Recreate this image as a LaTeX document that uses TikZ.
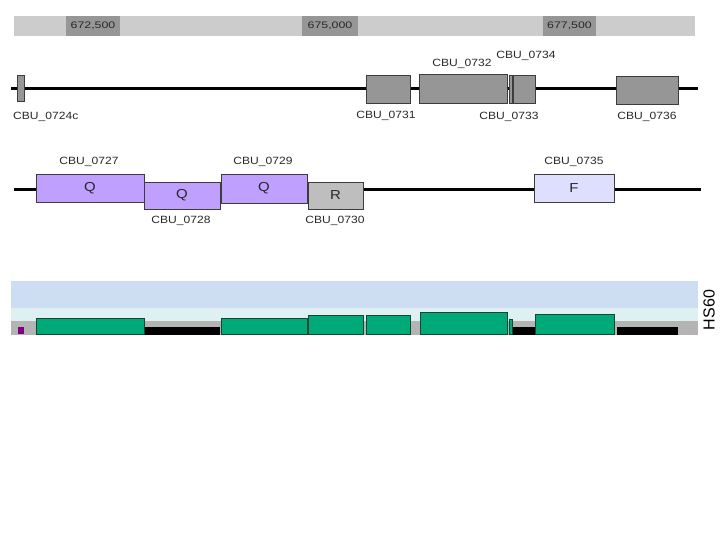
\documentclass[tikz,border=0pt]{standalone}
\usepackage{fontspec}
\setmainfont{Liberation Sans}
\newfontfamily\widefont{Liberation Sans}[FakeStretch=1.15]
\newfontfamily\rulerfont{Liberation Sans}[FakeStretch=1.3]
\usepackage{xcolor}
\usepackage{tikz}
\usetikzlibrary{positioning}

\definecolor{rulerbg}{RGB}{204,204,204}
\definecolor{rulertick}{RGB}{150,150,150}
\definecolor{genegray}{RGB}{150,150,150}
\definecolor{geneedge}{RGB}{60,60,60}
\definecolor{qpurple}{RGB}{191,160,255}
\definecolor{rgray}{RGB}{190,190,190}
\definecolor{flav}{RGB}{222,222,255}
\definecolor{hsblue}{RGB}{206,222,242}
\definecolor{hscyan}{RGB}{223,240,242}
\definecolor{hsgray}{RGB}{180,180,180}
\definecolor{hsgreen}{RGB}{0,170,120}
\definecolor{hsedge}{RGB}{20,70,50}
\definecolor{hspurple}{RGB}{128,0,128}
\definecolor{txt}{RGB}{40,40,40}

\begin{document}
\begin{tikzpicture}[x=1pt, y=-1pt,
  gene/.style={draw=geneedge, line width=0.8pt, fill=#1, inner sep=0pt, outer sep=0pt,
               font=\widefont\fontsize{13}{13}\selectfont, text=txt},
  lbl/.style={font=\widefont\fontsize{10.5}{10.5}\selectfont, text=txt, inner sep=0pt},
  tick/.style={fill=rulertick, inner sep=0pt, minimum height=20pt,
               font=\rulerfont\fontsize{9.5}{9.5}\selectfont, text=txt},
  backbone/.style={line width=2.2pt, black},
  green/.style={fill=hsgreen, draw=hsedge, line width=0.7pt}
]
\useasboundingbox (0,0) rectangle (720,540);

%% ---- Ruler ----
\fill[rulerbg] (14,16) rectangle (695,36);
\node[tick, minimum width=54pt] (r1) at (93,26)  {672,500};
\node[tick, minimum width=56pt] (r2) at (330,26) {675,000};
\node[tick, minimum width=53pt] (r3) at (569.5,26) {677,500};

%% ---- Track 1 ----
\coordinate (t1w) at (11,88.5);
\coordinate (t1e) at (698,88.5);
\draw[backbone] (t1w) -- (t1e);
\node[gene=genegray, minimum width=7pt,  minimum height=26pt] (g0724c) at (20.5,88)  {};
\node[gene=genegray, minimum width=44pt, minimum height=28pt] (g0731)  at (388,89)   {};
\node[gene=genegray, minimum width=88pt, minimum height=29pt] (g0732)  at (463,88.5) {};
\node[gene=genegray, minimum width=3pt,  minimum height=28pt] (g0733)  at (510.5,89) {};
\node[gene=genegray, minimum width=22pt, minimum height=28pt] (g0734)  at (524,89)   {};
\node[gene=genegray, minimum width=62pt, minimum height=28pt] (g0736)  at (647,90)   {};

\node[lbl, anchor=west] (l0724c) at (13,117) {CBU\_0724c};
\node[lbl] (l0731) at (386,116) {CBU\_0731};
\node[lbl] (l0732) at (462,64)  {CBU\_0732};
\node[lbl] (l0734) at (526,56)  {CBU\_0734};
\node[lbl] (l0733) at (509,117) {CBU\_0733};
\node[lbl] (l0736) at (647,117) {CBU\_0736};

%% ---- Track 2 ----
\coordinate (t2w) at (14,189.5);
\coordinate (t2e) at (701,189.5);
\draw[backbone] (t2w) -- (t2e);
\node[gene=qpurple, minimum width=108pt, minimum height=28pt] (g0727) at (90,188)    {Q};
\node[gene=qpurple, minimum width=76pt,  minimum height=27pt] (g0728) at (182,195.5) {Q};
\node[gene=qpurple, minimum width=86pt,  minimum height=29pt] (g0729) at (264,188.5) {Q};
\node[gene=rgray,   minimum width=55pt,  minimum height=27pt] (g0730) at (335.5,195.5) {R};
\node[gene=flav,    minimum width=80pt,  minimum height=28pt] (g0735) at (574,188)   {F};

\node[lbl] (l0727) at (89,162)  {CBU\_0727};
\node[lbl] (l0728) at (181,221) {CBU\_0728};
\node[lbl] (l0729) at (263,162) {CBU\_0729};
\node[lbl] (l0730) at (335,221) {CBU\_0730};
\node[lbl] (l0735) at (574,162) {CBU\_0735};

%% ---- HS60 track ----
\fill[hsblue] (11,281) rectangle (698,308);
\fill[hscyan] (11,308) rectangle (698,321);
\fill[hsgray] (11,321) rectangle (698,335);
\fill[hspurple] (18,327) rectangle (24,334);
\foreach \a/\b in {144/220, 513/535, 617/678}
  \fill[black] (\a,327) rectangle (\b,335);
\foreach \a/\t/\b in {36/318/144, 221/318/307, 308/315/363, 366/315/410,
                      420/312/507, 509/319/512, 535/314/614}
  \draw[green] (\a,\t) rectangle (\b,334);
\node[rotate=90, font=\fontsize{16}{16}\selectfont, inner sep=0pt] (hs60) at (709,310) {HS60};

\end{tikzpicture}
\end{document}
